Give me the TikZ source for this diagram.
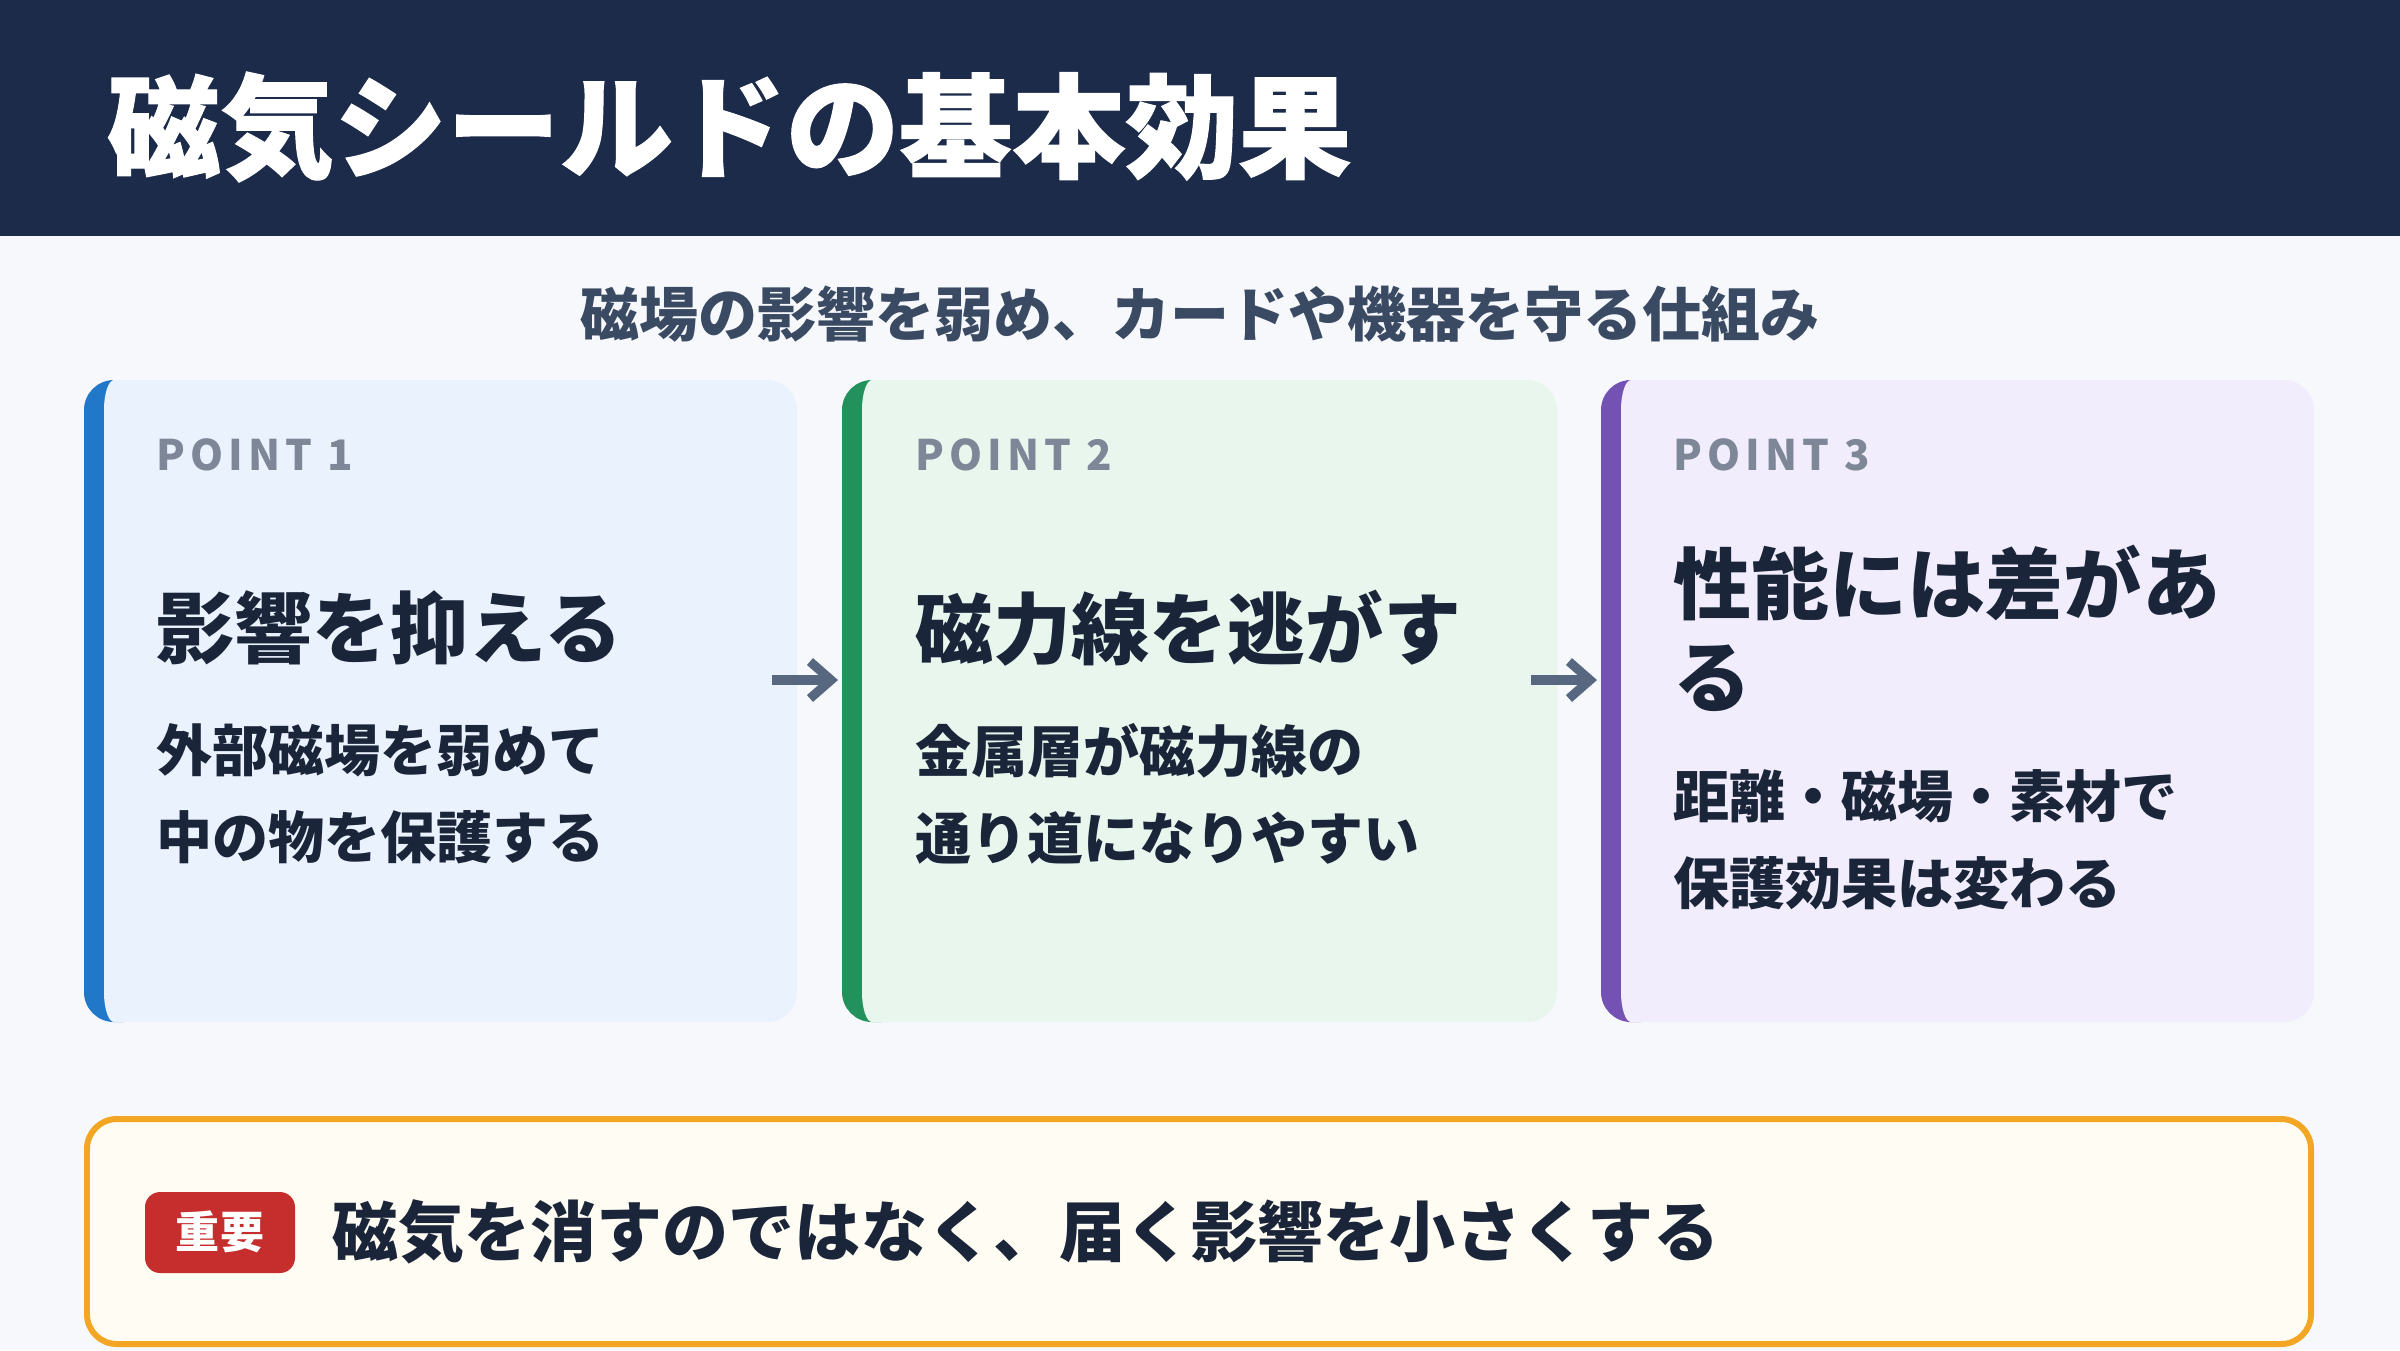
\documentclass[tikz,border=0pt]{standalone}
\usepackage{fontspec}
\setmainfont{Noto Sans CJK JP}
\usetikzlibrary{arrows.meta,fit}
\newcommand\pxfont[2]{\fontsize{\fpeval{#1*0.28453}pt}{\fpeval{#2*0.28453}pt}\selectfont}
\definecolor{navy}{HTML}{1C2B4A}
\definecolor{pagebg}{HTML}{F6F8FC}
\definecolor{subcol}{HTML}{3A4A63}
\definecolor{graycol}{HTML}{7D8797}
\definecolor{darktext}{HTML}{1B2539}
\definecolor{arrowcol}{HTML}{56677F}
\definecolor{blueacc}{HTML}{2178C8}
\definecolor{bluefill}{HTML}{EAF2FE}
\definecolor{greenacc}{HTML}{23915C}
\definecolor{greenfill}{HTML}{E9F6EE}
\definecolor{purpacc}{HTML}{7452B3}
\definecolor{purpfill}{HTML}{F1EDFD}
\definecolor{orangecol}{HTML}{F2A623}
\definecolor{creamfill}{HTML}{FFFCF3}
\definecolor{redbadge}{HTML}{C62E2E}
\tikzset{
  pointlbl/.style={anchor=west, inner sep=0, text=graycol, font={\pxfont{42}{50}\bfseries\addfontfeatures{LetterSpace=12}}},
  headlbl/.style={anchor=west, inner sep=0, text=darktext, align=left, font={\pxfont{78}{93}\bfseries}},
  bodylbl/.style={anchor=west, inner sep=0, text=darktext, align=left, font={\pxfont{56}{87}\bfseries}},
  flowarrow/.style={draw=arrowcol, line width=2.6pt, -{Straight Barb[length=6pt,width=10.5pt]}},
}
% #1 name, #2 X, #3 T, #4 R, #5 B, #6 accent, #7 fill
\newcommand\cardshape[7]{%
  \begin{scope}
    \clip (#2,#3) rectangle (#2+40,#5);
    \fill[#6, rounded corners=8.54pt] (#2,#3) rectangle (#4,#5);
  \end{scope}
  \fill[#7] (#2+20,#3+30) .. controls (#2+20,#3+13.4) and (#2+24.5,#3) .. (#2+30,#3)
    -- (#4-30,#3) .. controls (#4-13.4,#3) and (#4,#3+13.4) .. (#4,#3+30)
    -- (#4,#5-30) .. controls (#4,#5-13.4) and (#4-13.4,#5) .. (#4-30,#5)
    -- (#2+30,#5) .. controls (#2+24.5,#5) and (#2+20,#5-13.4) .. (#2+20,#5-30) -- cycle;
  \node[fit={(#2,#3) (#4,#5)}, inner sep=0] (#1) {};
}
\begin{document}
\begin{tikzpicture}[x=0.01cm, y=-0.01cm]
\useasboundingbox (0,0) rectangle (2400,1350);
\fill[pagebg] (0,0) rectangle (2400,1350);
\fill[navy] (0,0) rectangle (2400,236);
\node[anchor=west, inner sep=0, text=white, font={\pxfont{113}{120}\bfseries\addfontfeatures{FakeBold=1}}] (title) at (107,127) {磁気シールドの基本効果};
\node[inner sep=0, text=subcol, font={\pxfont{59}{66}\bfseries}] (subtitle) at (1200,314) {磁場の影響を弱め、カードや機器を守る仕組み};

\cardshape{c1}{84}{380}{797}{1022}{blueacc}{bluefill}
\cardshape{c2}{842}{380}{1557}{1022}{greenacc}{greenfill}
\cardshape{c3}{1601}{380}{2314}{1022}{purpacc}{purpfill}

\node[pointlbl] (p1) at (156,455) {POINT 1};
\node[pointlbl] (p2) at (915,455) {POINT 2};
\node[pointlbl] (p3) at (1673,455) {POINT 3};

\node[headlbl] (h1) at (156,628) {影響を抑える};
\node[headlbl] (h2) at (915,628) {磁力線を逃がす};
\node[headlbl] (h3) at (1673,628) {性能には差があ\\る};

\node[bodylbl] (b1) at (156,794) {外部磁場を弱めて\\中の物を保護する};
\node[bodylbl] (b2) at (915,794) {金属層が磁力線の\\通り道になりやすい};
\node[bodylbl] (b3) at (1673,840) {距離・磁場・素材で\\保護効果は変わる};

\coordinate (a1s) at (772,680);
\coordinate (a1e) at (838,680);
\coordinate (a2s) at (1531,680);
\coordinate (a2e) at (1597,680);
\draw[flowarrow] (a1s) -- (a1e);
\draw[flowarrow] (a2s) -- (a2e);

\draw[draw=orangecol, line width=1.7pt, fill=creamfill, rounded corners=8.5pt] (87,1119) rectangle (2311,1344);
\node[fit={(87,1119) (2311,1344)}, inner sep=0] (notebox) {};
\fill[redbadge, rounded corners=4.3pt] (145,1192) rectangle (295,1273);
\node[inner sep=0, text=white, font={\pxfont{44}{50}\bfseries}] (badge) at (220,1232) {重要};
\node[anchor=west, inner sep=0, text=darktext, font={\pxfont{66}{75}\bfseries}] (note) at (332,1232) {磁気を消すのではなく、届く影響を小さくする};
\end{tikzpicture}
\end{document}
